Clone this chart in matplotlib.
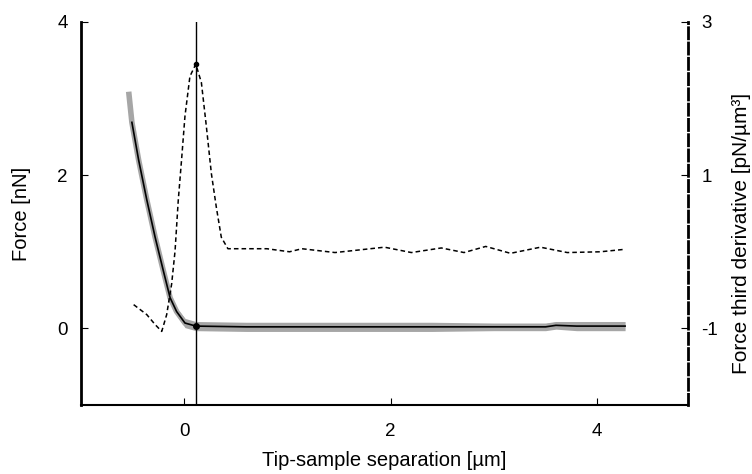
import matplotlib.pyplot as plt

plt.rcParams['font.family'] = ['Liberation Sans', 'DejaVu Sans']
plt.rcParams['axes.unicode_minus'] = False

# force curve (left axis, nN)
sep_force = [-0.538, -0.507, -0.442, -0.363, -0.282, -0.202, -0.137, -0.074, 0.007, 0.112,
             0.6, 1.2, 1.8, 2.4, 3.0, 3.5, 3.6, 3.8, 4.27]
force = [3.09, 2.69, 2.20, 1.68, 1.19, 0.75, 0.40, 0.22, 0.07, 0.03,
         0.02, 0.02, 0.02, 0.02, 0.02, 0.02, 0.04, 0.03, 0.03]
# half width of the grey raw-data band around the force curve
band = [0.00, 0.00, 0.00, 0.01, 0.02, 0.03, 0.04, 0.05, 0.06, 0.06,
        0.06, 0.06, 0.06, 0.06, 0.05, 0.05, 0.05, 0.06, 0.06]

# third derivative (right axis, pN/um^3)
sep_d3 = [-0.490, -0.363, -0.282, -0.218, -0.170, -0.122, -0.089, -0.058, -0.026, 0.007,
          0.055, 0.112, 0.166, 0.214, 0.263, 0.311, 0.359, 0.423, 0.503, 0.8, 1.02,
          1.14, 1.46, 1.94, 2.20, 2.49, 2.71, 2.92, 3.16, 3.45, 3.71, 4.03, 4.25]
d3 = [-0.69, -0.82, -0.95, -1.04, -0.82, -0.42, 0.01, 0.67, 1.20, 1.77,
      2.29, 2.45, 2.21, 1.64, 1.02, 0.58, 0.19, 0.04, 0.04, 0.04, 0.00,
      0.04, -0.01, 0.06, -0.01, 0.05, -0.01, 0.07, -0.02, 0.06, -0.01, 0.00, 0.03]

peak_x = 0.112
peak_force = 0.03
peak_d3 = 2.45

fig = plt.figure(figsize=(7.52, 4.74), dpi=100)
ax = fig.add_axes([0.1077, 0.1456, 0.8073, 0.808])
ax2 = ax.twinx()

lower = [f - b for f, b in zip(force, band)]
upper = [f + b for f, b in zip(force, band)]
ax.plot(sep_force, force, color='#a6a6a6', lw=4, solid_capstyle='butt', zorder=1)
ax.fill_between(sep_force, lower, upper, color='#a6a6a6', lw=0, zorder=1)
ax.plot(sep_force[1:], force[1:], color='black', lw=1.2, zorder=2)
ax.plot([peak_x], [peak_force], 'o', color='black', ms=4, zorder=3)
ax.axvline(peak_x, color='black', lw=1)

ax2.plot(sep_d3, d3, color='black', lw=1.1, dashes=(3, 2))
ax2.plot([peak_x], [peak_d3], 'o', color='black', ms=3)

ax.set_xlim(-1, 4.88)
ax.set_ylim(-1, 4)
ax2.set_ylim(-2, 3)
ax.set_xticks([0, 2, 4])
ax.set_yticks([0, 2, 4])
ax2.set_yticks([-1, 1, 3])

ax.set_xlabel('Tip-sample separation [µm]', fontsize=14.5, labelpad=8)
ax.set_ylabel('Force [nN]', fontsize=14.5, labelpad=19)
ax2.set_ylabel('Force third derivative [pN/µm³]', fontsize=15)
ax2.yaxis.set_label_coords(1.072, 0.449)

for a in (ax, ax2):
    a.spines['top'].set_visible(False)
    a.tick_params(direction='in', labelsize=13.5, length=5, pad=9.5)
ax.tick_params(axis='x', pad=13)
ax.spines['right'].set_visible(False)
ax.spines['left'].set_linewidth(2)
ax.spines['bottom'].set_linewidth(1.5)
ax2.spines['left'].set_visible(False)
ax2.spines['bottom'].set_visible(False)
ax2.spines['right'].set_linewidth(2)
ax2.spines['right'].set_linestyle((0, (4, 1.5)))

fig.savefig('out.png', dpi=100)
